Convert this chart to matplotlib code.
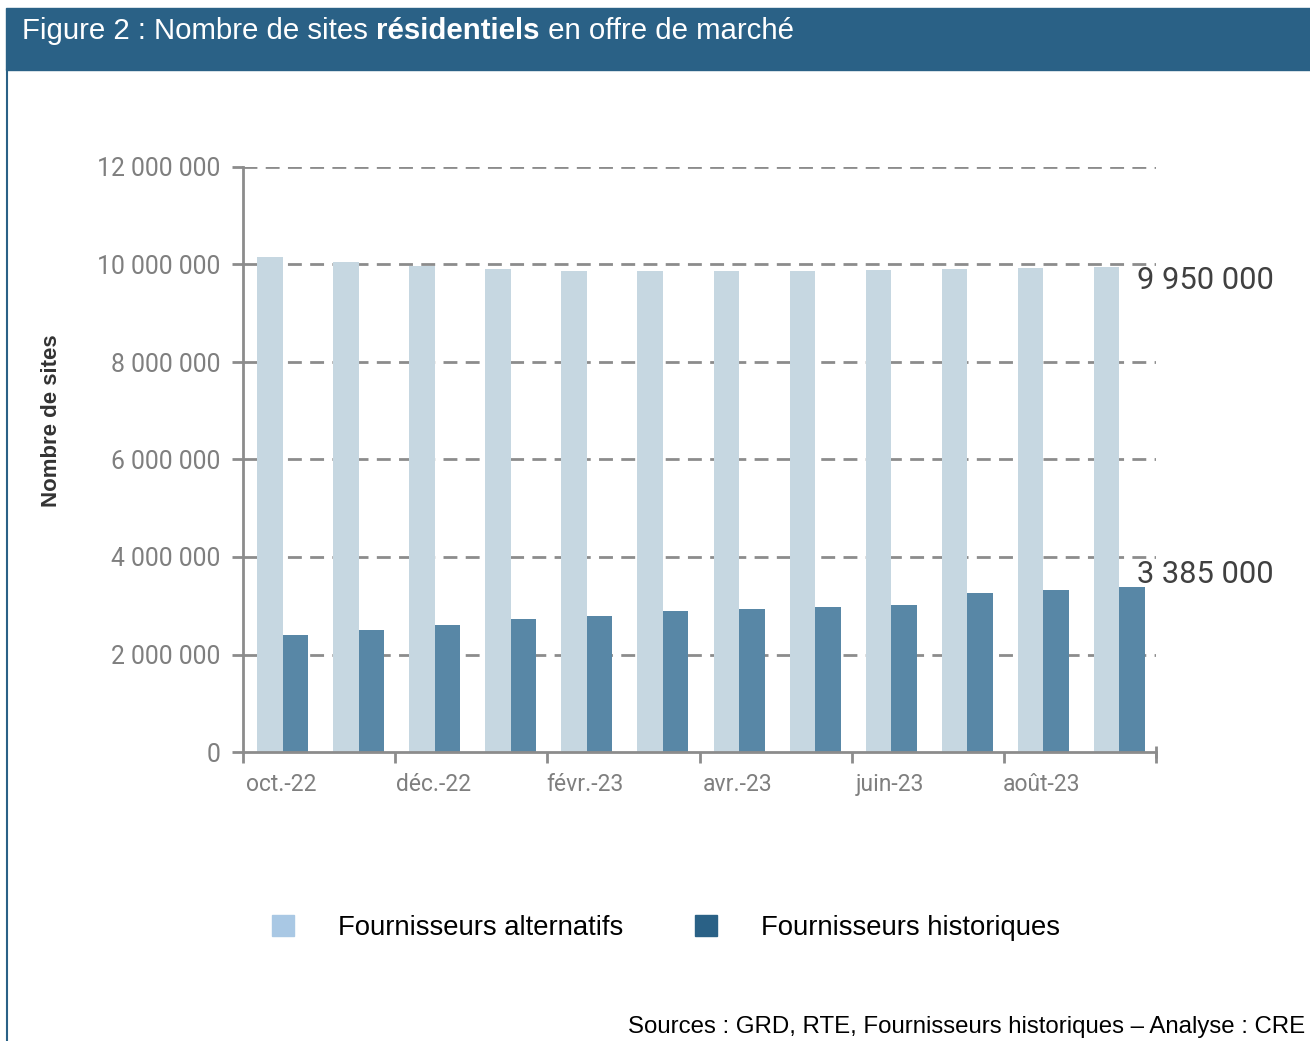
import numpy as np
import matplotlib
matplotlib.use("Agg")
import matplotlib.pyplot as plt
from matplotlib.patches import Patch, Rectangle
from matplotlib.ticker import FuncFormatter

months = ["oct.-22", "nov.-22", "déc.-22", "janv.-23", "févr.-23", "mars-23",
          "avr.-23", "mai-23", "juin-23", "juil.-23", "août-23", "sept.-23"]
alternatifs = [10150000, 10060000, 9960000, 9900000, 9860000, 9860000,
               9860000, 9870000, 9880000, 9900000, 9920000, 9950000]
historiques = [2400000, 2510000, 2610000, 2720000, 2800000, 2890000,
               2930000, 2980000, 3020000, 3260000, 3320000, 3385000]
y_ticks = [0, 2000000, 4000000, 6000000, 8000000, 10000000, 12000000]
end_labels = ["9 950 000", "3 385 000"]

c_alt = "#c6d7e1"
c_hist = "#5887a6"
c_alt_leg = "#a9c8e4"
c_hist_leg = "#2a6186"
c_axis = "#8c8c8c"
tick_font = "Roboto"
text_font = "Liberation Sans"

fig = plt.figure(figsize=(13.1, 10.41), dpi=100)

# header band + left border
fig.patches.append(Rectangle((6 / 1310, 1 - 70 / 1041), 1, 62 / 1041,
                             transform=fig.transFigure, color="#2a6186", zorder=0))
fig.add_artist(plt.Line2D([6.5 / 1310, 6.5 / 1310], [0, 1 - 70 / 1041],
                          transform=fig.transFigure, color="#2a6186", lw=1.5))
ty = 1 - 31 / 1041
t = fig.text(22 / 1310, ty, "Figure 2 : Nombre de sites ", color="white",
             fontsize=21.2, family=text_font, va="center", ha="left")
fig.canvas.draw()
bb = t.get_window_extent()
t2 = fig.text(bb.x1 / 1310, ty, "résidentiels", color="white",
              fontsize=21.2, family=text_font, fontweight="bold", va="center", ha="left")
fig.canvas.draw()
bb2 = t2.get_window_extent()
fig.text(bb2.x1 / 1310, ty, " en offre de marché", color="white",
         fontsize=21.2, family=text_font, va="center", ha="left")

ax = fig.add_axes([243 / 1310, 1 - 752 / 1041, 913 / 1310, 585 / 1041])
x = np.arange(len(months))
w = 0.335
ax.bar(x - w / 2 + 0.02, alternatifs, w, color=c_alt, zorder=2)
ax.bar(x + w / 2 + 0.02, historiques, w, color=c_hist, zorder=2)

ax.set_xlim(-0.5, len(months) - 0.5)
ax.set_ylim(0, 12000000)
ax.set_yticks(y_ticks)
ax.yaxis.set_major_formatter(FuncFormatter(lambda v, p: f"{int(v):,}".replace(",", " ")))
for v in y_ticks[1:]:
    ax.axhline(v, color=c_axis, lw=2, ls=(0, (5, 3)), zorder=1)

ax.set_xticks(np.arange(-0.5, len(months), 2))
ax.set_xticklabels([])
ax.set_xticks(x[::2], minor=True)
ax.set_xticklabels(months[::2], minor=True)
ax.tick_params(axis="x", which="major", length=8, width=2, color=c_axis, direction="out")
ax.tick_params(axis="x", which="minor", length=0, pad=15, labelsize=16.5, labelcolor="#7f7f7f")
ax.tick_params(axis="y", length=8, width=2, color=c_axis, pad=8, labelsize=17.8,
               labelcolor="#7f7f7f")
for lab in ax.get_xticklabels(minor=True) + ax.get_yticklabels():
    lab.set_family(tick_font)

for s in ["top", "right"]:
    ax.spines[s].set_visible(False)
for s in ["left", "bottom"]:
    ax.spines[s].set_color(c_axis)
    ax.spines[s].set_linewidth(2)

# right-end tick on x axis
ax.plot([len(months) - 0.5], [0], marker="|", ms=8, mew=2, color=c_axis,
        clip_on=False)

ax.set_ylabel("Nombre de sites", fontsize=16, family=text_font, fontweight="bold",
              color="#333333")
ax.yaxis.set_label_coords(-0.198, 0.566)

for val, lab, dy in zip([alternatifs[-1], historiques[-1]], end_labels, [-14, 12]):
    ax.annotate(lab, xy=(len(months) - 0.5, val), xytext=(-19, dy),
                textcoords="offset pixels", fontsize=22.2, family=tick_font,
                color="#404040", va="center", ha="left", annotation_clip=False)

handles = [Patch(color=c_alt_leg), Patch(color=c_hist_leg)]
fig.legend(handles, ["Fournisseurs alternatifs", "Fournisseurs historiques"],
           loc="center", bbox_to_anchor=(666 / 1310, 1 - 928 / 1041), ncol=2,
           frameon=False, prop={"family": text_font, "size": 19.8},
           handlelength=0.8, handleheight=0.8, handletextpad=1.6, columnspacing=2.6)

fig.text(1305 / 1310, 1 - 1027 / 1041,
         "Sources : GRD, RTE, Fournisseurs historiques \u2013 Analyse : CRE",
         fontsize=17.3, family=text_font, ha="right", va="center", color="black")

fig.savefig("out.png", dpi=100)
